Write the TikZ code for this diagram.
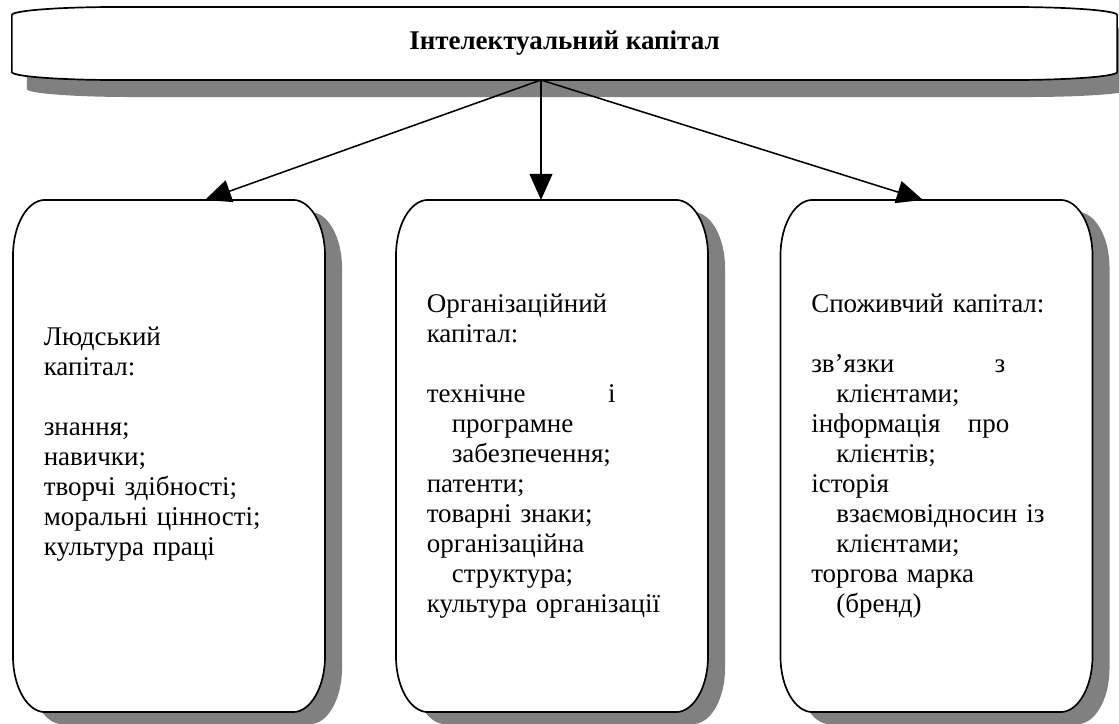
\documentclass[tikz,border=0pt]{standalone}
\usepackage{fontspec}
\setmainfont{Liberation Serif}
\usetikzlibrary{arrows.meta,backgrounds}

% outline with elliptic corners: node, dx, dy, rx, ry
\newcommand{\ovalpath}[5]{([xshift=#2+#4,yshift=#3]#1.north west)
  -- ([xshift=#2-#4,yshift=#3]#1.north east)
  arc[start angle=90,end angle=0,x radius=#4,y radius=#5]
  -- ([xshift=#2,yshift=#3+#5]#1.south east)
  arc[start angle=0,end angle=-90,x radius=#4,y radius=#5]
  -- ([xshift=#2+#4,yshift=#3]#1.south west)
  arc[start angle=-90,end angle=-180,x radius=#4,y radius=#5]
  -- ([xshift=#2,yshift=#3-#5]#1.north west)
  arc[start angle=180,end angle=90,x radius=#4,y radius=#5] -- cycle}
\newcommand{\jl}[3]{\makebox[#1][l]{#2\hfill#3}}
\newcommand{\hi}{\hspace*{0.625cm}}

\tikzset{
  capbox/.style={rectangle, outer sep=0pt, inner xsep=0.77cm, inner ysep=0pt,
    text width=6.26cm, minimum width=7.8cm, minimum height=12.8cm, align=left,
    font=\fontsize{19.2pt}{21.34pt}\selectfont},
  topbox/.style={rectangle, outer sep=0pt, minimum width=27.625cm, minimum height=1.825cm,
    font=\fontsize{19.2pt}{21.34pt}\selectfont\bfseries},
  boxline/.style={line width=1.2pt, fill=white},
  shadowfill/.style={fill=black!50},
  link/.style={line width=1.1pt, -{Triangle[length=0.65cm,width=0.57cm]}}
}

\begin{document}
\begin{tikzpicture}[x=0.025cm,y=-0.025cm]
\useasboundingbox (0,0) rectangle (1119,724);

\node[topbox] (intel) at (564.5,43.5) {\raisebox{-0.07cm}{Інтелектуальний капітал}};

\node[capbox] (human) at (169,456) {Людський\\ капітал:\\ ~\\ знання;\\ навички;\\
  творчі здібності;\\ моральні цінності;\\ культура праці\\ ~};
\node[capbox] (org) at (552,456) {Організаційний\\ капітал:\\ ~\\
  \jl{4.72cm}{технічне}{і}\\ \hi програмне\\ \hi забезпечення;\\ патенти;\\
  товарні знаки;\\ організаційна\\ \hi структура;\\ культура організації};
\node[capbox] (client) at (936.5,456) {Споживчий капітал:\\ ~\\
  \jl{4.85cm}{зв’язки}{з}\\ \hi клієнтами;\\ \jl{4.95cm}{інформація}{про}\\
  \hi клієнтів;\\ історія\\ \hi взаємовідносин із\\ \hi клієнтами;\\
  торгова марка\\ \hi (бренд)};

\begin{scope}[on background layer]
  \fill[shadowfill] \ovalpath{intel}{0.375cm}{-0.425cm}{2.625cm}{0.2cm};
  \draw[boxline] \ovalpath{intel}{0cm}{0cm}{2.625cm}{0.2cm};
  \foreach \b in {human,org,client} {
    \fill[shadowfill] \ovalpath{\b}{0.425cm}{-0.3cm}{0.8cm}{1.4cm};
    \draw[boxline] \ovalpath{\b}{0cm}{0cm}{0.8cm}{1.4cm};
  }
\end{scope}

\coordinate (hub) at (541,80);
\draw[link] (hub) -- ([xshift=0.9cm]human.north);
\draw[link] (hub) -- ([xshift=-0.275cm]org.north);
\draw[link] (hub) -- ([xshift=-0.34cm]client.north);
\end{tikzpicture}
\end{document}
